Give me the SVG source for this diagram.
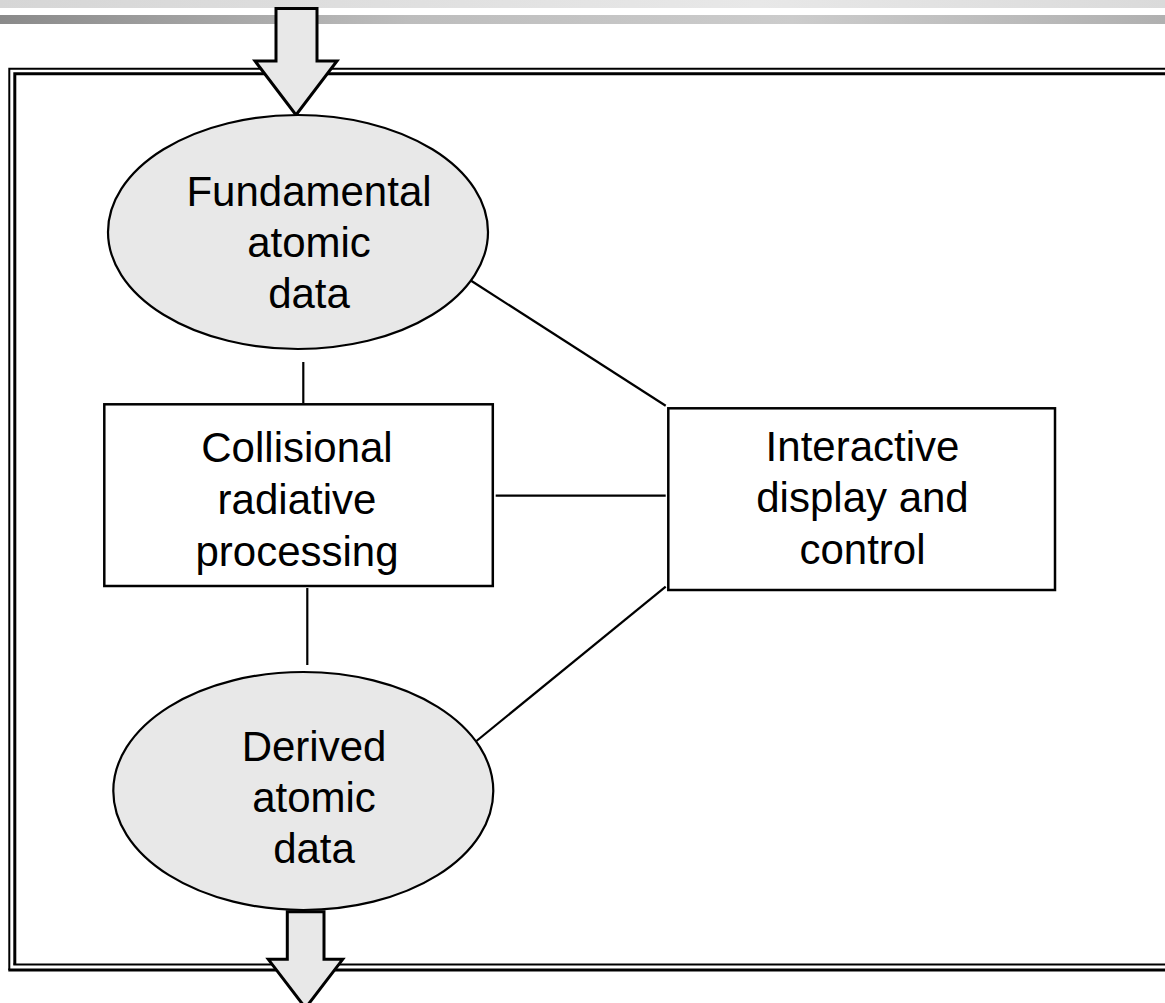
<svg xmlns="http://www.w3.org/2000/svg" width="1165" height="1003" viewBox="0 0 1165 1003">
<defs>
<linearGradient id="band1" x1="0" y1="0" x2="1" y2="0">
<stop offset="0" stop-color="#d6d6d6"/>
<stop offset="0.65" stop-color="#e8e8e8"/>
<stop offset="1" stop-color="#dadada"/>
</linearGradient>
<linearGradient id="band2" x1="0" y1="0" x2="1" y2="0">
<stop offset="0" stop-color="#8a8a8a"/>
<stop offset="0.35" stop-color="#bdbdbd"/>
<stop offset="0.68" stop-color="#cccccc"/>
<stop offset="1" stop-color="#b0b0b0"/>
</linearGradient>
</defs>
<style>
.lbl{font-family:"Liberation Sans",Arial,sans-serif;font-size:42px;fill:#000;text-anchor:middle}
.ell{fill:#e8e8e8;stroke:#000;stroke-width:2.2}
.box{fill:#fff;stroke:#000;stroke-width:2.5}
.conn{stroke:#000;stroke-width:2.2;fill:none}
.arrow{fill:#e8e8e8;stroke:#000;stroke-width:3;stroke-linejoin:miter}
.thin{stroke:#000;stroke-width:2;fill:none}
.thick{stroke:#000;stroke-width:3;fill:none}
</style>
<rect width="1165" height="1003" fill="#fff"/>
<rect x="0" y="0" width="1165" height="8" fill="url(#band1)"/>
<rect x="0" y="15" width="1165" height="9" fill="url(#band2)"/>
<g id="frame">
<path class="thin" d="M1170,68.7 H9.3 V970"/>
<path class="thick" d="M8.3,970 H1170"/>
<path class="thick" d="M1170,73.8 H14.8 V964.5"/>
<path class="thin" d="M13.3,964.5 H1170"/>
</g>
<g id="connectors">
<line class="conn" x1="303.3" y1="362" x2="303.3" y2="403"/>
<line class="conn" x1="307.3" y1="588" x2="307.3" y2="665"/>
<line class="conn" x1="470" y1="280" x2="665.7" y2="405.7"/>
<line class="conn" x1="495.7" y1="495.7" x2="665.7" y2="495.7"/>
<line class="conn" x1="665.7" y1="586.7" x2="474" y2="743"/>
</g>
<g id="arrow-in">
<path class="arrow" d="M276,8.5 H317 V61 H337 L296,115 L255,61 H276 Z"/>
</g>
<g id="fundamental">
<ellipse class="ell" cx="298" cy="232" rx="190" ry="117"/>
<text class="lbl" x="309" y="206">Fundamental</text>
<text class="lbl" x="309" y="257">atomic</text>
<text class="lbl" x="309" y="308">data</text>
</g>
<g id="collisional">
<rect class="box" x="104.3" y="404.3" width="388.5" height="181.7"/>
<text class="lbl" x="297" y="462">Collisional</text>
<text class="lbl" x="297" y="514">radiative</text>
<text class="lbl" x="297" y="566">processing</text>
</g>
<g id="interactive">
<rect class="box" x="668.3" y="408.3" width="386.7" height="181.7"/>
<text class="lbl" x="862.5" y="461">Interactive</text>
<text class="lbl" x="862.5" y="512">display and</text>
<text class="lbl" x="862.5" y="564">control</text>
</g>
<g id="derived">
<ellipse class="ell" cx="303.3" cy="791" rx="190" ry="119"/>
<text class="lbl" x="314" y="761">Derived</text>
<text class="lbl" x="314" y="812">atomic</text>
<text class="lbl" x="314" y="863">data</text>
</g>
<g id="arrow-out">
<path class="arrow" d="M287.3,911.7 H324 V959.3 H342.7 L305.5,1008 L268.3,959.3 H287.3 Z"/>
</g>
</svg>
